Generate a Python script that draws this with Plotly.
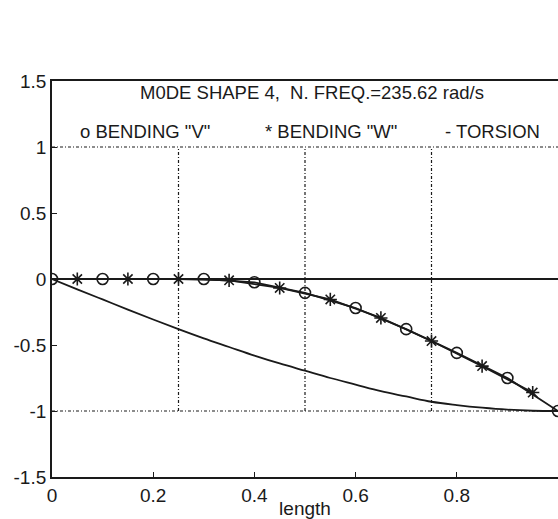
import plotly.graph_objects as go

# Mode shape 4 along the normalised beam length
x_v = [0.0, 0.1, 0.2, 0.3, 0.4, 0.5, 0.6, 0.7, 0.8, 0.9, 1.0]
bending_v = [0.0, 0.0, 0.0, 0.0, -0.025, -0.105, -0.22, -0.38, -0.56, -0.75, -1.0]

x_w = [0.05, 0.15, 0.25, 0.35, 0.45, 0.55, 0.65, 0.75, 0.85, 0.95]
bending_w = [0.0, 0.0, 0.0, -0.01, -0.068, -0.155, -0.295, -0.47, -0.66, -0.86]

x_t = [0.0, 0.05, 0.1, 0.15, 0.2, 0.25, 0.3, 0.35, 0.4, 0.45, 0.5,
       0.55, 0.6, 0.65, 0.7, 0.75, 0.8, 0.85, 0.9, 0.95, 1.0]
torsion = [0.0, -0.078, -0.155, -0.232, -0.307, -0.38, -0.45, -0.515, -0.58, -0.64, -0.695,
           -0.75, -0.80, -0.85, -0.89, -0.93, -0.955, -0.975, -0.99, -0.998, -1.0]

# reference grid lines
ref_levels = [-1.0, 1.0]
ref_positions = [0.25, 0.5, 0.75]

x_ticks = [0, 0.2, 0.4, 0.6, 0.8, 1.0]
x_tick_text = ["0", "0.2", "0.4", "0.6", "0.8", "1"]
y_ticks = [-1.5, -1.0, -0.5, 0.0, 0.5, 1.0, 1.5]
y_tick_text = ["-1.5", "-1", "-0.5", "0", "0.5", "1", "1.5"]

title_text = "M0DE SHAPE 4,  N. FREQ.=235.62 rad/s"
legend_items = [('o BENDING "V"', 0.051), ('* BENDING "W"', 0.416), ('- TORSION', 0.773)]

INK = "#1a1a1a"
FONT = "Liberation Sans, Arial, sans-serif"
ref_dash = "3px,2px,1px,2px"

fig = go.Figure()

for lvl in ref_levels:
    fig.add_trace(go.Scatter(x=[0, 1], y=[lvl, lvl], mode="lines",
                             line=dict(color=INK, width=1.2, dash=ref_dash),
                             hoverinfo="skip", showlegend=False))
for pos in ref_positions:
    fig.add_trace(go.Scatter(x=[pos, pos], y=[ref_levels[0], ref_levels[1]], mode="lines",
                             line=dict(color=INK, width=1.2, dash=ref_dash),
                             hoverinfo="skip", showlegend=False))

fig.add_trace(go.Scatter(x=x_t, y=torsion, mode="lines", name="TORSION",
                         line=dict(color=INK, width=1.8, shape="spline"), showlegend=False))
fig.add_trace(go.Scatter(x=x_v, y=bending_v, mode="lines+markers", name='BENDING "V"',
                         line=dict(color=INK, width=1.8),
                         marker=dict(symbol="circle-open", size=11, color=INK,
                                     line=dict(width=1.6, color=INK)),
                         showlegend=False))
fig.add_trace(go.Scatter(x=x_w, y=bending_w, mode="lines+markers", name='BENDING "W"',
                         line=dict(color=INK, width=1.8),
                         marker=dict(symbol="asterisk-open", size=11, color=INK,
                                     line=dict(width=1.6, color=INK)),
                         showlegend=False))

fig.add_annotation(x=0.17, y=1.41, text=title_text, showarrow=False,
                   xanchor="left", yanchor="middle", font=dict(size=18.5, color=INK, family=FONT))
for txt, xpos in legend_items:
    fig.add_annotation(x=xpos, y=1.115, text=txt, showarrow=False,
                       xanchor="left", yanchor="middle", font=dict(size=18.5, color=INK, family=FONT))

fig.update_layout(
    width=558, height=519,
    margin=dict(l=52, r=0, t=81, b=37),
    paper_bgcolor="white", plot_bgcolor="white",
    font=dict(family=FONT, size=19, color=INK),
    showlegend=False,
)
fig.update_xaxes(range=[0, 1], tickvals=x_ticks, ticktext=x_tick_text,
                 showgrid=False, zeroline=False,
                 showline=True, linecolor=INK, linewidth=1.8, mirror=True,
                 ticks="inside", ticklen=5, tickcolor=INK, tickwidth=1.2,
                 title=dict(text="length", font=dict(size=19), standoff=0))
fig.update_yaxes(range=[-1.5, 1.5], tickvals=y_ticks, ticktext=y_tick_text,
                 showgrid=False, zeroline=True, zerolinecolor=INK, zerolinewidth=1.8,
                 showline=True, linecolor=INK, linewidth=1.8,
                 ticks="inside", ticklen=5, tickcolor=INK, tickwidth=1.2)

fig.write_html("out.html")
